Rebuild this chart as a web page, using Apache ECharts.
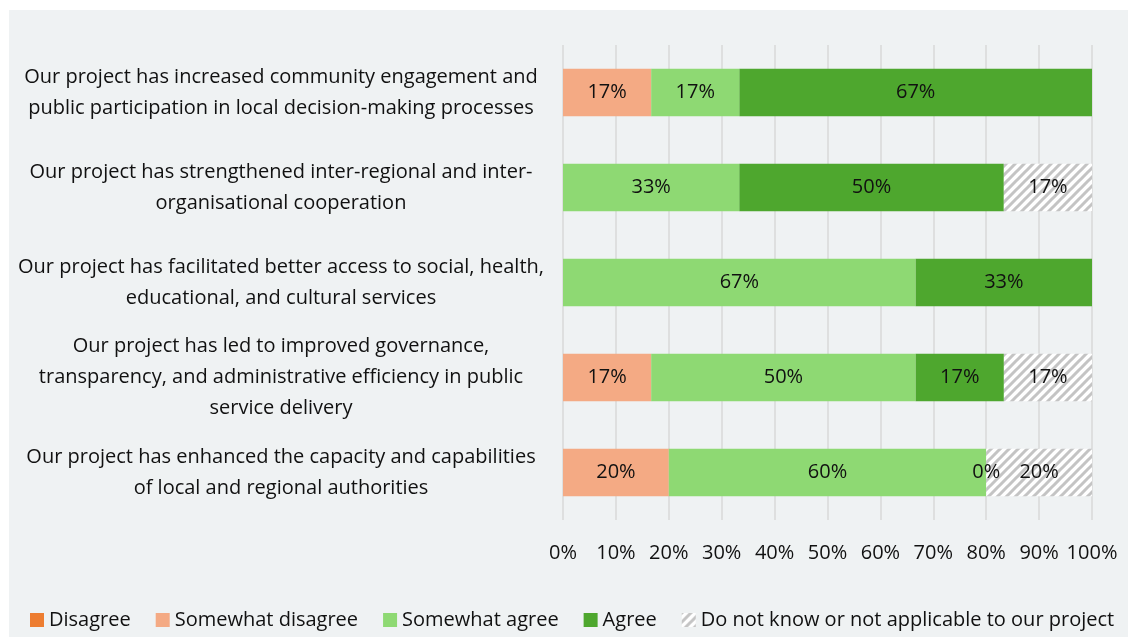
<!DOCTYPE html>
<html>
<head>
<meta charset="utf-8">
<script src="https://cdn.jsdelivr.net/npm/echarts@6/dist/echarts.min.js"></script>
<style>
  html, body { margin: 0; padding: 0; background: #ffffff; }
  #chart { width: 1128px; height: 637px; }
</style>
</head>
<body>
<div id="chart"></div>
<script>
// Survey statements (top to bottom), wrapped onto lines
const categories = [
  'Our project has increased community engagement and\npublic participation in local decision-making processes',
  'Our project has strengthened inter-regional and inter-\norganisational cooperation',
  'Our project has facilitated better access to social, health,\neducational, and cultural services',
  'Our project has led to improved governance,\ntransparency, and administrative efficiency in public\nservice delivery',
  'Our project has enhanced the capacity and capabilities\nof local and regional authorities'
];

// Share of respondents per answer (percent); null = no answer of that kind
const disagree         = [null, null, null, null, null];
const somewhatDisagree = [16.67, null, null, 16.67, 20];
const somewhatAgree    = [16.67, 33.33, 66.67, 50, 60];
const agree            = [66.66, 50, 33.33, 16.67, 0];
const notApplicable    = [null, 16.67, null, 16.66, 20];

const seriesNames = [
  'Disagree',
  'Somewhat disagree',
  'Somewhat agree',
  'Agree',
  'Do not know or not applicable to our project'
];

const tickLabels = ['0%', '10%', '20%', '30%', '40%', '50%', '60%', '70%', '80%', '90%', '100%'];

const FONT = '"Open Sans", Lato, sans-serif';

// Diagonal hatch fill for the "not applicable" answers
function makeHatch() {
  const c = document.createElement('canvas');
  const s = 9;
  c.width = s; c.height = s;
  const g = c.getContext('2d');
  g.fillStyle = '#ffffff';
  g.fillRect(0, 0, s, s);
  g.strokeStyle = '#c4c4c4';
  g.lineWidth = 3;
  g.beginPath();
  g.moveTo(-2, s + 2); g.lineTo(s + 2, -2);
  g.moveTo(-2, 2); g.lineTo(2, -2);
  g.moveTo(s - 2, s + 2); g.lineTo(s + 2, s - 2);
  g.stroke();
  return c;
}
const hatch = { image: makeHatch(), repeat: 'repeat' };

const colors = ['#ED7D31', '#F4AA84', '#8ED973', '#4EA72E', hatch];
const dataSets = [disagree, somewhatDisagree, somewhatAgree, agree, notApplicable];

const chart = echarts.init(document.getElementById('chart'), null, { renderer: 'canvas' });

const series = seriesNames.map((name, i) => ({
  name: name,
  type: 'bar',
  stack: 'total',
  barWidth: '50%',
  itemStyle: { color: colors[i] },
  label: {
    show: true,
    position: 'inside',
    color: '#111111',
    fontFamily: FONT,
    fontSize: 20,
    formatter: p => (p.value === null || p.value === undefined) ? '' : Math.round(p.value) + '%'
  },
  emphasis: { disabled: true },
  data: dataSets[i]
}));

chart.setOption({
  backgroundColor: '#ffffff',
  animation: false,
  graphic: [{
    type: 'rect',
    z: -10,
    silent: true,
    shape: { x: 9, y: 10, width: 1119, height: 627 },
    style: { fill: '#eff2f3' }
  }],
  grid: { left: 563, right: 36, top: 45, bottom: 117, containLabel: false },
  legend: {
    data: seriesNames,
    left: 25,
    bottom: 2,
    itemWidth: 14,
    itemHeight: 14,
    itemGap: 25,
    icon: 'rect',
    textStyle: { color: '#111111', fontFamily: FONT, fontSize: 20, padding: [0, 0, 0, 0] }
  },
  xAxis: {
    type: 'value',
    min: 0,
    max: 100,
    interval: 10,
    axisLine: { show: false },
    axisTick: { show: false },
    splitLine: { show: true, lineStyle: { color: '#d9d9d9', width: 1.5 } },
    axisLabel: {
      margin: 23,
      color: '#111111',
      fontFamily: FONT,
      fontSize: 20,
      formatter: v => tickLabels[Math.round(v / 10)]
    }
  },
  yAxis: {
    type: 'category',
    inverse: true,
    data: categories,
    axisLine: { show: false },
    axisTick: { show: false },
    axisLabel: {
      margin: 282,
      align: 'center',
      color: '#111111',
      fontFamily: FONT,
      fontSize: 20,
      lineHeight: 31
    }
  },
  series: series
});
</script>
</body>
</html>
